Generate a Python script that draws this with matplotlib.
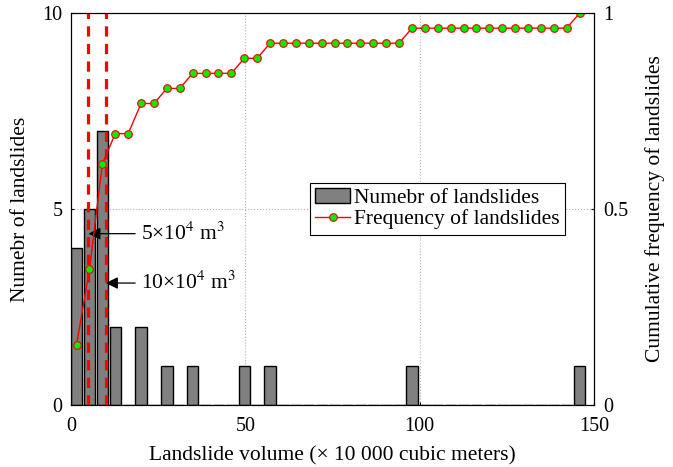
import matplotlib
matplotlib.use('Agg')
import matplotlib.pyplot as plt
import numpy as np

plt.rcParams['font.family'] = ['Liberation Serif', 'DejaVu Serif']
plt.rcParams['mathtext.fontset'] = 'stix'

# bin centres of the volume histogram (x 10 000 m3) and counts per bin
bin_centers = 1.6 + 3.7 * np.arange(40)
counts = np.zeros(40)
counts[[0, 1, 2, 3, 5, 7, 9, 13, 15, 26, 39]] = [4, 5, 7, 2, 2, 1, 1, 1, 1, 1, 1]
cum_freq = np.cumsum(counts) / counts.sum()

thresholds = [5, 10]
arrow_labels = [r'5×10$^{4}$ m$^{3}$', r'10×10$^{4}$ m$^{3}$']
arrow_y = [4.37, 3.11]

fig = plt.figure(figsize=(6.73, 4.67), dpi=100)
ax = fig.add_axes([0.1055, 0.133, 0.777, 0.839])
ax2 = ax.twinx()

bars = ax.bar(bin_centers, counts, width=3.25, color='#808080',
              edgecolor='black', linewidth=1, label='Numebr of landslides')
for t in thresholds:
    ax.axvline(t, color='red', linestyle=(0, (3.2, 2.3)), linewidth=2.3, zorder=3)

line, = ax2.plot(bin_centers, cum_freq, color='red', linewidth=1,
                 marker='o', markersize=5.5, markerfacecolor='#00ee00',
                 markeredgecolor='red', markeredgewidth=0.8,
                 label='Frequency of landslides')

for t, lab, yy in zip(thresholds, arrow_labels, arrow_y):
    ax.annotate(lab, xy=(t, yy), xytext=(20, yy), fontsize=15.5,
                va='center', ha='left',
                arrowprops=dict(arrowstyle='-|>', color='black', lw=0.9,
                                mutation_scale=18, shrinkA=2, shrinkB=0))

ax.set_xlim(0, 150)
ax.set_ylim(0, 10)
ax2.set_ylim(0, 1)
ax.set_xticks([0, 50, 100, 150])
ax.set_yticks([0, 5, 10])
ax2.set_yticks([0, 0.5, 1])
ax2.set_yticklabels(['0', '0.5', '1'])
ax.grid(True, linestyle=':', color='#b0b0b0', linewidth=0.8)
ax.set_axisbelow(True)
for a in (ax, ax2):
    a.tick_params(direction='in', labelsize=14.5, length=2)
ax.tick_params(axis='x', pad=9)
ax.tick_params(axis='y', pad=6)
ax2.tick_params(axis='y', pad=7)

ax.set_xlabel('Landslide volume (× 10 000 cubic meters)', fontsize=15.5, labelpad=7)
ax.set_ylabel('Numebr of landslides', fontsize=15.5, labelpad=9)
ax2.set_ylabel('Cumulative frequency of landslides', fontsize=15.5, labelpad=12)

leg = ax2.legend([bars, line], ['Numebr of landslides', 'Frequency of landslides'],
                 loc='upper left', bbox_to_anchor=(0.457, 0.567), fontsize=15.5,
                 fancybox=False, edgecolor='black', framealpha=1,
                 borderpad=0.25, handlelength=1.6, handletextpad=0.2,
                 labelspacing=0.05, borderaxespad=0)
leg.get_frame().set_linewidth(0.8)

fig.savefig('out.png', dpi=100)
